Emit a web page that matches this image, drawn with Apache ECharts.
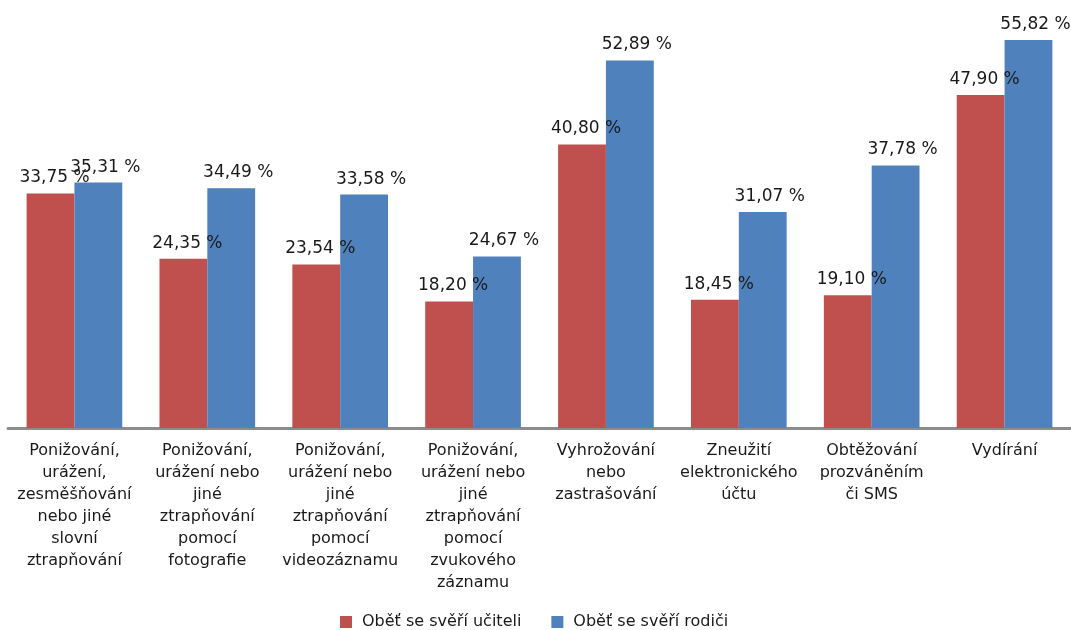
<!DOCTYPE html>
<html><head><meta charset="utf-8">
<script src="https://cdn.jsdelivr.net/npm/echarts@6/dist/echarts.min.js"></script>
<style>html,body{margin:0;padding:0;background:#fff}#c{width:1071px;height:630px}</style>
</head><body><div id="c"></div>
<script>
const categories = [
  "Ponižování,\nurážení,\nzesměšňování\nnebo jiné\nslovní\nztrapňování",
  "Ponižování,\nurážení nebo\njiné\nztrapňování\npomocí\nfotografie",
  "Ponižování,\nurážení nebo\njiné\nztrapňování\npomocí\nvideozáznamu",
  "Ponižování,\nurážení nebo\njiné\nztrapňování\npomocí\nzvukového\nzáznamu",
  "Vyhrožování\nnebo\nzastrašování",
  "Zneužití\nelektronického\núčtu",
  "Obtěžování\nprozváněním\nči SMS",
  "Vydírání"
];
const seriesNames = ["Oběť se svěří učiteli", "Oběť se svěří rodiči"];
const teacher = [33.75, 24.35, 23.54, 18.20, 40.80, 18.45, 19.10, 47.90];
const parents = [35.31, 34.49, 33.58, 24.67, 52.89, 31.07, 37.78, 55.82];

const font = "DejaVu Sans";
const fmt = p => p.value.toFixed(2).replace('.', ',') + ' %';
const chart = echarts.init(document.getElementById('c'));
chart.setOption({
  animation: false,
  textStyle: {fontFamily: font},
  grid: {left: 8, right: 0, top: 11, bottom: 202, containLabel: false},
  legend: {
    bottom: -5, left: 335, itemWidth: 12, itemHeight: 12, itemGap: 30,
    icon: 'rect',
    textStyle: {fontSize: 16, color: '#1a1a1a', fontFamily: font, padding: [0, 0, 0, 5]},
    data: seriesNames
  },
  xAxis: {
    type: 'category', data: categories,
    axisLine: {lineStyle: {color: '#8c8c8c', width: 3}},
    axisTick: {show: false},
    axisLabel: {interval: 0, fontSize: 16, color: '#1a1a1a', lineHeight: 22, margin: 12, fontFamily: font}
  },
  yAxis: {type: 'value', min: 0, max: 60, show: false, splitLine: {show: false}},
  series: [
    {name: seriesNames[0], type: 'bar', data: teacher, barGap: '0%', barCategoryGap: '28%',
     itemStyle: {color: '#C0504D'},
     label: {show: true, position: 'top', distance: 7, offset: [4, 0], formatter: fmt, fontSize: 17, color: '#1a1a1a', fontFamily: font}},
    {name: seriesNames[1], type: 'bar', data: parents, barGap: '0%', barCategoryGap: '28%',
     itemStyle: {color: '#4F81BD'},
     label: {show: true, position: 'top', distance: 7, offset: [7, 0], formatter: fmt, fontSize: 17, color: '#1a1a1a', fontFamily: font}}
  ]
});
</script></body></html>
